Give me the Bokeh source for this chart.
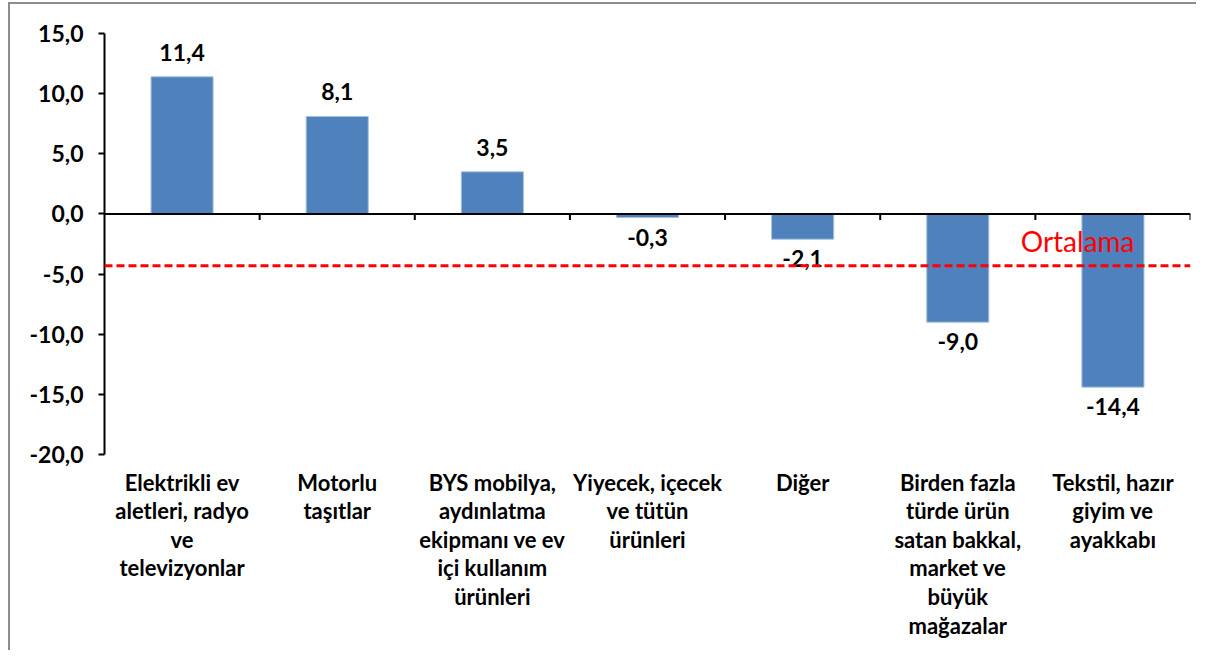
from bokeh.plotting import figure
from bokeh.models import Range1d, LinearAxis, FixedTicker, CustomJSTickFormatter, Span
from bokeh.core.properties import value
from bokeh.embed import file_html
from bokeh.resources import INLINE

categories = [
    "Elektrikli ev\naletleri, radyo\nve\ntelevizyonlar",
    "Motorlu\ntaşıtlar",
    "BYS mobilya,\naydınlatma\nekipmanı ve ev\niçi kullanım\nürünleri",
    "Yiyecek, içecek\nve tütün\nürünleri",
    "Diğer",
    "Birden fazla\ntürde ürün\nsatan bakkal,\nmarket ve\nbüyük\nmağazalar",
    "Tekstil, hazır\ngiyim ve\nayakkabı",
]
values = [11.4, 8.1, 3.5, -0.3, -2.1, -9.0, -14.4]
average = -4.3
average_label = "Ortalama"
y_ticks = [-20, -15, -10, -5, 0, 5, 10, 15]

FONT = "Lato"
n = len(categories)
xs = [i + 0.5 for i in range(n)]

p = figure(width=1188, height=648, output_backend="svg", toolbar_location=None,
           x_axis_type=None, y_axis_type=None,
           x_range=Range1d(0, n), y_range=Range1d(-36.46, 15),
           min_border_left=94, min_border_right=8, min_border_top=29, min_border_bottom=0,
           styles={"margin-left": "8px", "margin-top": "2px",
                   "border-left": "2px solid #8C8C8C", "border-top": "2px solid #8C8C8C"})
p.outline_line_color = None
p.xgrid.visible = False
p.ygrid.visible = False
p.background_fill_color = "white"
p.border_fill_color = "white"

yaxis = LinearAxis(ticker=FixedTicker(ticks=y_ticks), bounds=(min(y_ticks), max(y_ticks)))
yaxis.formatter = CustomJSTickFormatter(code="return tick.toFixed(1).replace('.', ',');")
yaxis.axis_line_width = 2
yaxis.axis_line_color = "black"
yaxis.major_tick_line_width = 2
yaxis.major_tick_in = 0
yaxis.major_tick_out = 6
yaxis.minor_tick_line_color = None
yaxis.major_label_standoff = 15
yaxis.major_label_text_font = FONT
yaxis.major_label_text_font_style = "bold"
yaxis.major_label_text_font_size = "23px"
yaxis.major_label_text_color = "black"
p.add_layout(yaxis, "left")

# bars
p.vbar(x=xs, top=values, bottom=0, width=0.4, fill_color="#4F81BD", line_color="#A7BFDE", line_width=1)

# zero line with ticks at category boundaries
p.add_layout(Span(location=0, dimension="width", line_color="black", line_width=2))
bounds_x = list(range(1, n + 1))
p.segment(x0=bounds_x, y0=[0] * n, x1=bounds_x, y1=[-0.5] * n, line_color="black", line_width=2)

# average line
p.add_layout(Span(location=average, dimension="width", line_color="#FF0000", line_width=3, line_dash="8 4"))
p.text(x=[n], y=[average], text=[average_label], text_align="right", text_baseline="bottom",
       x_offset=-56, y_offset=-8, text_font=value(FONT), text_font_size="28px", text_color="#FF0000")

# value labels
fmt = lambda v: f"{v:.1f}".replace(".", ",")
pos = [(x, v) for x, v in zip(xs, values) if v >= 0]
neg = [(x, v) for x, v in zip(xs, values) if v < 0]
p.text(x=[a for a, _ in pos], y=[b for _, b in pos], text=[fmt(b) for _, b in pos],
       text_align="center", text_baseline="bottom", y_offset=-16,
       text_font=value(FONT), text_font_style="bold", text_font_size="23px", text_color="black")
p.text(x=[a for a, _ in neg], y=[b for _, b in neg], text=[fmt(b) for _, b in neg],
       text_align="center", text_baseline="top", y_offset=11,
       text_font=value(FONT), text_font_style="bold", text_font_size="23px", text_color="black")

# category labels
p.text(x=xs, y=[min(y_ticks)] * n, text=categories, text_align="center", text_baseline="top",
       y_offset=14, text_line_height=1.06,
       text_font=value(FONT), text_font_style="bold", text_font_size="22px", text_color="black")

open("out.html", "w").write(file_html(p, INLINE))
